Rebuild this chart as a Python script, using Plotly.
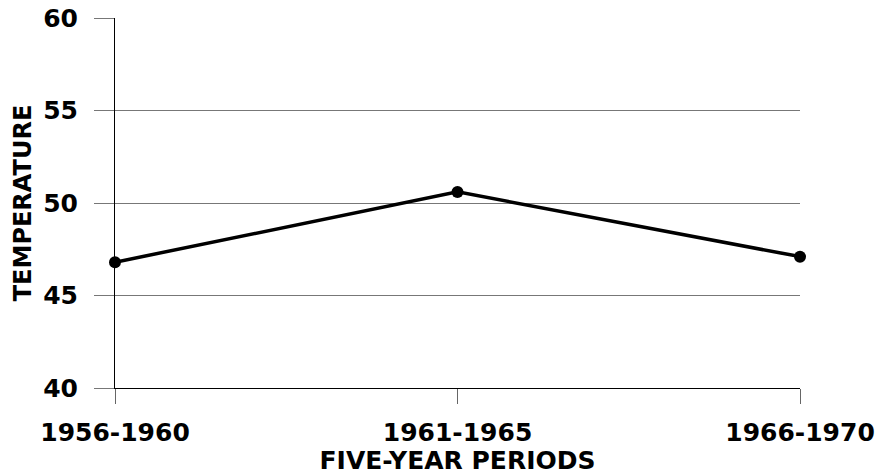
import plotly.graph_objects as go

periods = ["1956-1960", "1961-1965", "1966-1970"]
temperature = [46.8, 50.6, 47.1]
y_ticks = [40, 45, 50, 55, 60]

x_pos = list(range(len(periods)))
FONT = "DejaVu Sans"

fig = go.Figure()
fig.add_trace(go.Scatter(
    x=x_pos, y=temperature, mode="lines+markers",
    line=dict(color="black", width=3.5),
    marker=dict(color="black", size=12),
    cliponaxis=False, showlegend=False,
))

fig.update_layout(
    width=882, height=475,
    margin=dict(l=115, r=82, t=18, b=87, autoexpand=False),
    plot_bgcolor="white", paper_bgcolor="white",
    font=dict(family=FONT, color="black"),
)
fig.update_xaxes(
    range=[0, 2], tickvals=x_pos, ticktext=periods,
    showgrid=False, zeroline=False, automargin=False,
    showline=True, linecolor="black", linewidth=1,
    ticks="outside", ticklen=15, tickcolor="#666666", tickwidth=1,
    ticklabelstandoff=7, ticklabeloverflow="allow",
    tickfont=dict(family=FONT, size=25, weight="bold", color="black"),
    title=dict(text="FIVE-YEAR PERIODS", standoff=7,
               font=dict(family=FONT, size=25, weight="bold", color="black")),
)
fig.update_yaxes(
    range=[40, 60], tickvals=y_ticks,
    showgrid=True, gridcolor="#777777", gridwidth=1, zeroline=False, automargin=False,
    showline=True, linecolor="black", linewidth=1,
    ticks="outside", ticklen=20, tickcolor="#777777", tickwidth=1,
    ticklabelstandoff=11, ticklabeloverflow="allow",
    tickfont=dict(family=FONT, size=25, weight="bold", color="black"),
    title=dict(text="TEMPERATURE", standoff=4,
               font=dict(family=FONT, size=24, weight="bold", color="black")),
)

fig.write_html("out.html",
               config={"displayModeBar": False},
               post_script="document.body.style.margin='0';")
